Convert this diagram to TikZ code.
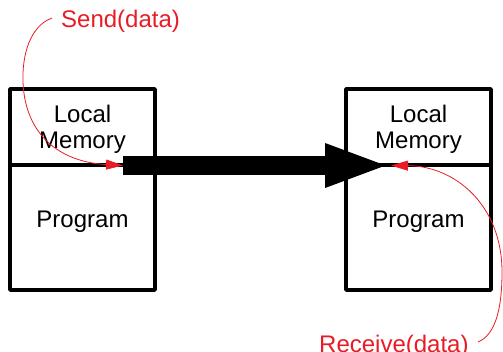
\documentclass[tikz,border=0pt]{standalone}
\usepackage{fontspec}
\setmainfont{Liberation Sans}
\usetikzlibrary{arrows.meta}
\definecolor{redc}{RGB}{232,28,36}
\begin{document}
\begin{tikzpicture}[x=1pt,y=-1pt,
  box/.style={draw, line width=3.5pt, minimum width=145pt, inner sep=0pt, line join=round},
  lbl/.style={font=\fontsize{24}{26}\selectfont, align=center, inner sep=0pt},
  redlbl/.style={lbl, text=redc},
  redarrow/.style={draw=redc, line width=0.8pt, -{Triangle[length=17pt,width=10pt]}},
  bigarrow/.style={draw=black, line width=19pt, -{Triangle[length=66pt,width=39pt]}}]
\useasboundingbox (0,0) rectangle (503,351);
% left box
\node[box, minimum height=76pt] (mem1) at (82.5,127) {};
\node[box, minimum height=125pt] (prog1) at (82.5,227.5) {};
\node[lbl] (mem1t) at (82.5,129) {Local\\Memory};
\node[lbl] (prog1t) at (82.5,222) {Program};
% right box
\node[box, minimum height=76pt] (mem2) at (418.5,127) {};
\node[box, minimum height=125pt] (prog2) at (418.5,227.5) {};
\node[lbl] (mem2t) at (418.5,129) {Local\\Memory};
\node[lbl] (prog2t) at (418.5,222) {Program};
% big arrow
\coordinate (bs) at (123,165.5);
\coordinate (bt) at (391,165.5);
\draw[bigarrow] (bs) -- (bt);
% red labels
\node[redlbl, anchor=base west] (send) at (61,27) {Send(data)};
\node[redlbl, anchor=base west] (recv) at (319,352) {Receive(data)};
% red arrows
\coordinate (sendstart) at (52,18);
\coordinate (sendmid) at (23,82);
\coordinate (recvstart) at (478,342);
\coordinate (recvmid) at (502,272);
\draw[redarrow] (sendstart) .. controls (30,26) and (22,55) .. (sendmid)
  .. controls (25,135) and (60,162) .. (bs);
\draw[redarrow] (recvstart) .. controls (495,335) and (502,310) .. (recvmid)
  .. controls (502,205) and (455,166) .. (bt);
\end{tikzpicture}
\end{document}
